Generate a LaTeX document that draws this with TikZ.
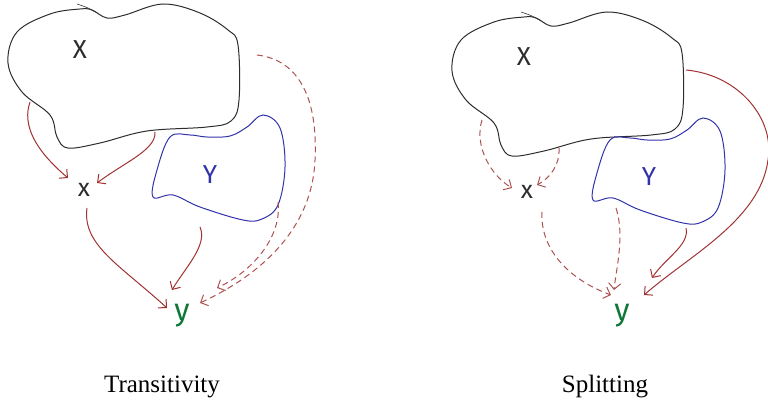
\documentclass[tikz,border=0pt]{standalone}
\usepackage{fontspec}
\setmainfont{Liberation Serif}
\newfontfamily\hand{Fira Sans}
\usetikzlibrary{arrows.meta}
\definecolor{arrowred}{RGB}{160,50,50}
\definecolor{setblue}{RGB}{50,50,170}
\definecolor{pointgreen}{RGB}{15,120,55}
\definecolor{outline}{RGB}{45,45,45}
\tikzset{
  sethull/.style={draw=outline, line width=1pt},
  subhull/.style={draw=setblue, line width=1pt},
  dep/.style={draw=arrowred, line width=1pt, -{Straight Barb[length=6pt,width=12pt]}},
  weakdep/.style={dep, draw=arrowred!85, dash pattern=on 6pt off 4pt},
  setlabel/.style={font=\hand\fontsize{26}{26}\selectfont},
  ptlabel/.style={font=\hand\fontsize{25}{25}\selectfont},
  caption/.style={font=\fontsize{25}{28}\selectfont}
}
\newcommand\blobX{%
  \draw[sethull] plot[smooth cycle, tension=0.6] coordinates {
    (92,10) (107,18) (125,15) (163,4) (200,13) (228,30) (238,45) (239,100)
    (231,121) (207,127) (147,131) (100,143) (68,148) (57,137) (50,115)
    (22,92) (8,63) (17,32) (50,14) (80,9)};
  \draw[sethull, line width=0.6pt] plot[smooth, tension=0.6] coordinates {(77,4) (88,8) (97,13)};
}
\newcommand\blobY{%
  \draw[subhull] plot[smooth cycle, tension=0.6] coordinates {
    (170,137) (190,135) (207,137) (230,136) (247,127) (263,115) (280,128)
    (285,167) (278,205) (262,219) (243,220) (200,207) (173,195) (153,197)
    (157,170)};
}
\begin{document}
\begin{tikzpicture}[x=1pt, y=-1pt]
\useasboundingbox (0,0) rectangle (768,406);

% ---------- left: transitivity ----------
\blobX
\blobY
\node[setlabel, text=outline] (X1) at (80,50) {X};
\node[setlabel, text=setblue] (Y1) at (210,175) {Y};
\node[ptlabel, text=outline] (x1) at (84,190) {x};
\node[ptlabel, text=pointgreen, font=\hand\fontsize{31}{31}\selectfont] (y1) at (182,316) {y};

\coordinate (a1s) at (30,102);  \coordinate (a1e) at (68,178);
\coordinate (a2s) at (155,132); \coordinate (a2e) at (97,183);
\coordinate (a3s) at (87,208);  \coordinate (a3e) at (167,308);
\coordinate (a4s) at (200,227); \coordinate (a4e) at (172,290);
\coordinate (a5s) at (257,55);  \coordinate (a5e) at (200,303);
\coordinate (a6s) at (278,202); \coordinate (a6e) at (217,288);

\draw[dep] (a1s) .. controls (22,125) and (35,150) .. (a1e);
\draw[dep] (a2s) .. controls (156,150) and (125,162) .. (a2e);
\draw[dep] (a3s) .. controls (82,245) and (120,265) .. (a3e);
\draw[dep] (a4s) .. controls (208,245) and (185,268) .. (a4e);
\draw[weakdep] (a5s) .. controls (300,60) and (318,100) .. (315,160)
               .. controls (312,230) and (260,275) .. (a5e);
\draw[weakdep] (a6s) .. controls (282,235) and (255,270) .. (a6e);

\node[caption, anchor=base] (cap1) at (162,392) {Transitivity};

% ---------- right: splitting ----------
\begin{scope}[shift={(444,8)}]
  \blobX
\end{scope}
\begin{scope}[shift={(440,3)}]
  \blobY
\end{scope}
\node[setlabel, text=outline] (X2) at (524,57) {X};
\node[setlabel, text=setblue] (Y2) at (649,177) {Y};
\node[ptlabel, text=outline] (x2) at (527,192) {x};
\node[ptlabel, text=pointgreen, font=\hand\fontsize{31}{31}\selectfont] (y2) at (622,316) {y};

\coordinate (b1s) at (482,120); \coordinate (b1e) at (512,188);
\coordinate (b2s) at (559,148); \coordinate (b2e) at (537,185);
\coordinate (b3s) at (542,212); \coordinate (b3e) at (611,295);
\coordinate (b4s) at (616,208); \coordinate (b4e) at (614,290);
\coordinate (b5s) at (686,228); \coordinate (b5e) at (652,278);
\coordinate (b6s) at (686,70);  \coordinate (b6e) at (644,295);

\draw[weakdep] (b1s) .. controls (474,145) and (490,175) .. (b1e);
\draw[weakdep] (b2s) .. controls (560,165) and (550,178) .. (b2e);
\draw[weakdep] (b3s) .. controls (540,250) and (570,280) .. (b3e);
\draw[weakdep] (b4s) .. controls (625,235) and (616,270) .. (b4e);
\draw[dep] (b5s) .. controls (690,245) and (665,258) .. (b5e);
\draw[dep] (b6s) .. controls (740,75) and (775,120) .. (768,160)
           .. controls (760,220) and (690,255) .. (b6e);

\node[caption, anchor=base] (cap2) at (605,392) {Splitting};
\end{tikzpicture}
\end{document}
